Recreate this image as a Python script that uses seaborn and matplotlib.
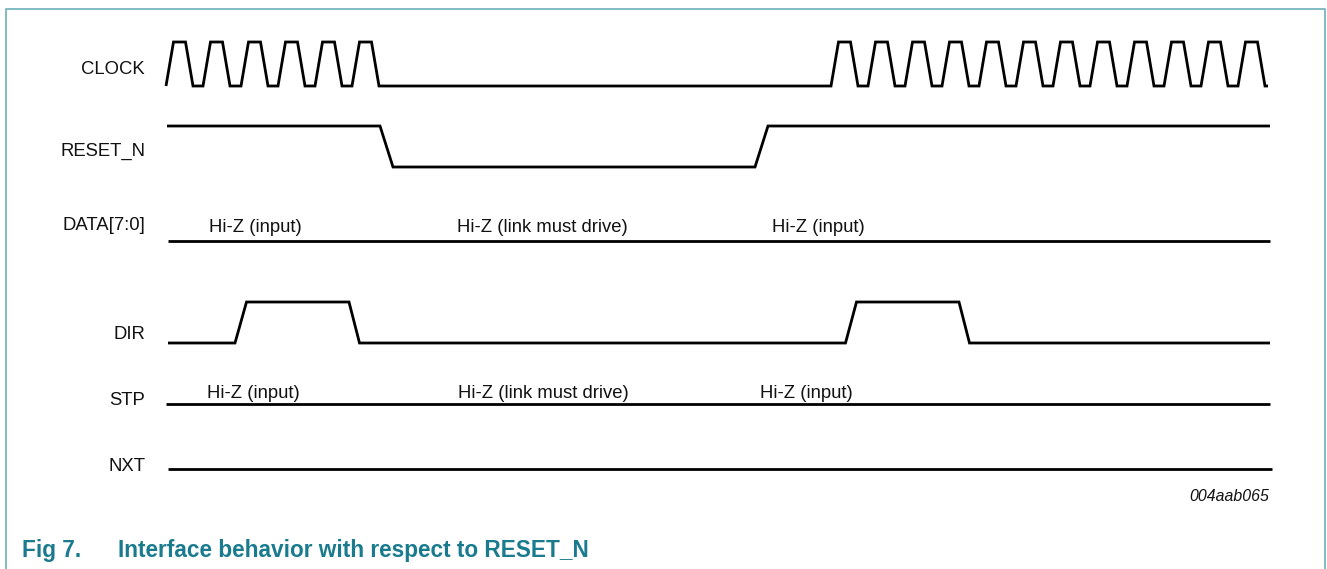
import numpy as np
import pandas as pd
import seaborn as sns
import matplotlib.pyplot as plt

sns.set_theme(style="white")
plt.rcParams['font.family'] = ['Liberation Sans', 'DejaVu Sans']

# signal names and where each row sits (low level / high level, picture pixels)
signals = ['CLOCK', 'RESET_N', 'DATA[7:0]', 'DIR', 'STP', 'NXT']
row_low = [86, 167, 241, 343, 404, 469]
row_high = [42, 126, 241, 302, 404, 469]
label_base = [74, 156, 230, 339, 404.5, 471]

# clock pulses: time where each rising edge starts
clk_burst1 = [166, 203, 241, 278, 315, 352]
clk_burst2 = [831, 868, 905, 942, 979, 1016, 1053, 1090, 1127, 1164, 1201, 1238]
clk_rise, clk_high, clk_fall = 7.5, 12, 7.5

# edges as (start, end) pairs
reset_edges = [(380, 393), (755, 768)]
dir_edges = [(235, 246.5), (349, 359.5), (845.5, 856.5), (959, 969.5)]

t_end = 1270

# bus annotations
data_notes = ['Hi-Z (input)', 'Hi-Z (link must drive)', 'Hi-Z (input)']
data_note_x = [209, 457, 772]
stp_notes = ['Hi-Z (input)', 'Hi-Z (link must drive)', 'Hi-Z (input)']
stp_note_x = [207, 458, 760]


def edge_wave(start_level, edges, t0, t1):
    xs, ys = [t0], [start_level]
    lvl = start_level
    for a, b in edges:
        xs.append(a)
        ys.append(lvl)
        lvl = 1 - lvl
        xs.append(b)
        ys.append(lvl)
    xs.append(t1)
    ys.append(lvl)
    return xs, ys


def clock_wave(bursts, t1):
    edges = []
    for b in bursts:
        for r in b:
            edges.append((r, r + clk_rise))
            edges.append((r + clk_rise + clk_high, r + clk_rise + clk_high + clk_fall))
    xs, ys = edge_wave(0, edges, bursts[0][0], t1)
    return xs[1:], ys[1:]


waves = {
    'CLOCK': clock_wave([clk_burst1, clk_burst2], 1268),
    'RESET_N': edge_wave(1, reset_edges, 167, t_end),
    'DATA[7:0]': edge_wave(0, [], 168, t_end),
    'DIR': edge_wave(0, dir_edges, 168, t_end),
    'STP': edge_wave(0, [], 166, t_end),
    'NXT': edge_wave(0, [], 168, 1272),
}

fig = plt.figure(figsize=(13.27, 5.69), dpi=100)
ax = fig.add_axes([0, 0, 1, 1])

for i, name in enumerate(signals):
    xs, ys = waves[name]
    lo, hi = row_low[i], row_high[i]
    df = pd.DataFrame({'t': xs, 'y': [lo + (hi - lo) * v for v in ys]})
    sns.lineplot(data=df, x='t', y='y', sort=False, estimator=None, color='black',
                 lw=2.0, ax=ax, solid_joinstyle='miter', solid_capstyle='butt')
    ax.text(145, label_base[i], name, ha='right', va='baseline', fontsize=13.3, color='#111111')

for txt, x in zip(data_notes, data_note_x):
    ax.text(x, 231.5, txt, ha='left', va='baseline', fontsize=13.3, color='#111111')
for txt, x in zip(stp_notes, stp_note_x):
    ax.text(x, 397.5, txt, ha='left', va='baseline', fontsize=13.3, color='#111111')

ax.text(1269, 501, '004aab065', ha='right', va='baseline', fontsize=11.4,
        style='italic', color='#111111')

# frame and caption
frame = '#78b5be'
ax.plot([6, 6, 1325, 1325], [569, 9, 9, 569], color=frame, lw=1.3)
teal = '#1a7b8e'
ax.text(22, 557, 'Fig 7.', ha='left', va='baseline', fontsize=16.3, fontweight='bold', color=teal)
ax.text(118, 557, 'Interface behavior with respect to RESET_N', ha='left', va='baseline',
        fontsize=16.3, fontweight='bold', color=teal)

ax.set_xlim(0, 1327)
ax.set_ylim(569, 0)
ax.axis('off')

fig.savefig('out.png', dpi=100)
